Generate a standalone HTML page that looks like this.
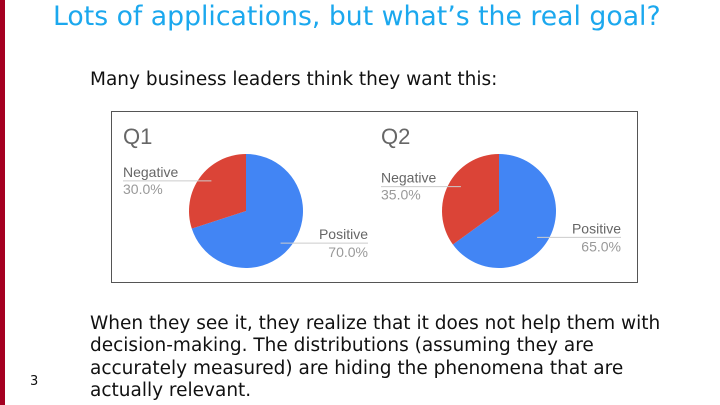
<!DOCTYPE html>
<html><head><meta charset="utf-8"><style>
body{margin:0;width:720px;height:405px;background:#fff;position:relative;overflow:hidden;font-family:"DejaVu Sans","Liberation Sans",sans-serif}
.t{position:absolute;white-space:nowrap}
</style></head><body>
<div style="position:absolute;left:0;top:0;width:5px;height:405px;background:#a50021"></div>
<div class="t" style="left:53px;top:1px;font-size:26.7px;color:#1ba8ee">Lots of applications, but what’s the real goal?</div>
<div class="t" style="left:90px;top:69px;font-size:18.5px;color:#111">Many business leaders think they want this:</div>
<svg style="position:absolute;left:0;top:0" width="720" height="405" id="svg"></svg>
<div style="position:absolute;left:90px;top:313px;width:600px;font-size:18.5px;line-height:22.3px;color:#111">When they see it, they realize that it does not help them with decision-making. The distributions (assuming they are accurately measured) are hiding the phenomena that are actually relevant.</div>
<div class="t" style="left:30px;top:374px;font-size:13px;color:#111">3</div>
<script>
const titles=["Q1","Q2"];
const positive=[70,65];
const negative=[30,35];
const svg=document.getElementById('svg');
const NS='http://www.w3.org/2000/svg';
function mk(t,a,p){const e=document.createElementNS(NS,t);for(const k in a)e.setAttribute(k,a[k]);(p||svg).appendChild(e);return e;}
const box=mk('rect',{x:111.5,y:111.5,width:526,height:171,fill:'#fff',stroke:'#555','stroke-width':1});


const cx=[246,499],cy=211,r=57,tx=[123,381];
let cx0;
function pt(a,rr){return [cx0+rr*Math.sin(a),cy-rr*Math.cos(a)];}
const F='Liberation Sans,sans-serif';
titles.forEach((ti,i)=>{
  cx0=cx[i];
  const tot=positive[i]+negative[i];
  const ap=positive[i]/tot*2*Math.PI;
  const g=mk('g',{});
  
  
  const t=mk('text',{x:tx[i],y:144,'font-size':22,fill:'#666','font-family':F},g);t.textContent=ti;
  
  
  const p1=pt(0,r),p2=pt(ap,r);
  const sp=mk('path',{d:`M${cx0},${cy}L${p1[0]},${p1[1]}A${r},${r} 0 ${ap>Math.PI?1:0} 1 ${p2[0]},${p2[1]}Z`,fill:'#4285f4'},g);
  
  
  const sn=mk('path',{d:`M${cx0},${cy}L${p2[0]},${p2[1]}A${r},${r} 0 ${ap<Math.PI?1:0} 1 ${p1[0]},${p1[1]}Z`,fill:'#db4437'},g);
  
  
  const mn=pt((ap+2*Math.PI)/2,r*0.75);
  const ny=mn[1]-5;
  const lx=tx[i];
  mk('line',{x1:lx,y1:ny,x2:mn[0],y2:ny,stroke:'#ccc','stroke-width':1},g);
  const n1=mk('text',{x:lx,y:ny-4,'font-size':14,fill:'#666','font-family':F},g);n1.textContent='Negative';
  
  
  const n2=mk('text',{x:lx,y:ny+13,'font-size':14,fill:'#999','font-family':F},g);n2.textContent=negative[i].toFixed(1)+'%';
  
  
  const mp=pt(ap/2,r*0.75);
  const py=mp[1]+7;
  const rx=cx0+r+65;
  mk('line',{x1:mp[0],y1:py,x2:rx,y2:py,stroke:'#ccc','stroke-width':1},g);
  const q1=mk('text',{x:rx,y:py-4,'font-size':14,fill:'#666','text-anchor':'end','font-family':F},g);q1.textContent='Positive';
  
  
  const q2=mk('text',{x:rx,y:py+14,'font-size':14,fill:'#999','text-anchor':'end','font-family':F},g);q2.textContent=positive[i].toFixed(1)+'%';
  
  
});
</script>
</body></html>
